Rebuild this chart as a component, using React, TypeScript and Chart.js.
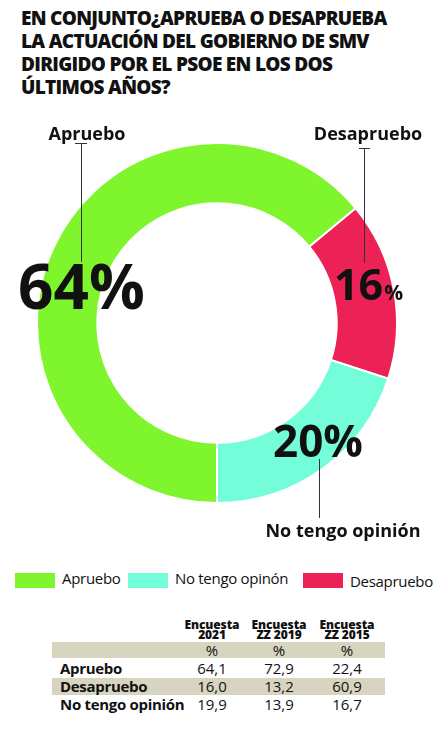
import React, { useEffect, useRef } from "react";
import { Chart, registerables } from "chart.js";

Chart.register(...registerables);

const titleLines = [
  "EN CONJUNTO¿APRUEBA O DESAPRUEBA",
  "LA ACTUACIÓN DEL GOBIERNO DE SMV",
  "DIRIGIDO POR EL PSOE EN LOS DOS",
  "ÚLTIMOS AÑOS?",
];

const segLabels = ["Apruebo", "Desapruebo", "No tengo opinión"];
const segValues = [64, 16, 20];
const segPercentText = ["64", "16", "20"];
const segColors = ["#7ef52c", "#ec2155", "#73fdd9"];

const legendLabels = ["Apruebo", "No tengo opinón", "Desapruebo"];
const legendColors = ["#7ef52c", "#73fdd9", "#ec2155"];

const tableHeadTop = ["Encuesta", "Encuesta", "Encuesta"];
const tableHeadBottom = ["2021", "ZZ 2019", "ZZ 2015"];
const tableRows = ["Apruebo", "Desapruebo", "No tengo opinión"];
const values2021 = ["64,1", "16,0", "19,9"];
const values2019 = ["72,9", "13,2", "13,9"];
const values2015 = ["22,4", "60,9", "16,7"];

const FONT = "'Open Sans', 'DejaVu Sans', sans-serif";
const BEIGE = "#d7d5bf";

const labelPlugin = {
  id: "calloutLabels",
  afterDraw(chart: any) {
    const meta = chart.getDatasetMeta(0);
    const arc = meta.data[0];
    if (!arc) return;
    const cx = arc.x;
    const cy = arc.y;
    const ctx = chart.ctx;
    ctx.save();
    ctx.fillStyle = "#111";
    ctx.strokeStyle = "#333";
    ctx.lineWidth = 1;

    const line = (x1: number, y1: number, x2: number, y2: number) => {
      ctx.beginPath();
      ctx.moveTo(x1, y1);
      ctx.lineTo(x2, y2);
      ctx.stroke();
    };

    // Apruebo
    ctx.textAlign = "center";
    ctx.textBaseline = "alphabetic";
    ctx.font = `700 18px ${FONT}`;
    ctx.fillText(segLabels[0], cx - 130, cy - 183);
    line(cx - 142, cy - 179.5, cx - 130, cy - 179.5);
    line(cx - 135.5, cy - 179.5, cx - 135.5, cy - 61);
    ctx.textAlign = "left";
    ctx.font = `700 62px ${FONT}`;
    ctx.fillText(segPercentText[0] + "%", cx - 199, cy - 14);

    // Desapruebo
    ctx.textAlign = "center";
    ctx.font = `700 18px ${FONT}`;
    ctx.fillText(segLabels[1], cx + 151, cy - 183);
    line(cx + 142, cy - 174.5, cx + 153, cy - 174.5);
    line(cx + 147.5, cy - 174.5, cx + 147.5, cy - 60);
    ctx.textAlign = "left";
    ctx.font = `700 43px ${FONT}`;
    const w16 = ctx.measureText(segPercentText[1]).width;
    ctx.fillText(segPercentText[1], cx + 117, cy - 23);
    ctx.font = `700 21px ${FONT}`;
    ctx.fillText("%", cx + 117 + w16 + 1, cy - 23);

    // No tengo opinión
    ctx.textAlign = "center";
    ctx.font = `700 44px ${FONT}`;
    ctx.fillText(segPercentText[2] + "%", cx + 101, cy + 134);
    line(cx + 102.5, cy + 136, cx + 102.5, cy + 195);
    ctx.font = `700 18px ${FONT}`;
    ctx.fillText(segLabels[2], cx + 126, cy + 214);

    ctx.restore();
  },
};

function DoughnutChart() {
  const ref = useRef<HTMLCanvasElement | null>(null);
  useEffect(() => {
    if (!ref.current) return;
    const chart = new Chart(ref.current, {
      type: "doughnut",
      data: {
        labels: segLabels,
        datasets: [
          {
            data: segValues,
            backgroundColor: segColors,
            borderColor: "#ffffff",
            borderWidth: 2,
          },
        ],
      },
      options: {
        responsive: false,
        maintainAspectRatio: false,
        animation: false,
        rotation: 180,
        cutout: "66.5%",
        layout: { padding: { left: 36, right: 41, top: 32, bottom: 56 } },
        plugins: {
          legend: { display: false },
          tooltip: { enabled: false },
          title: { display: false },
        },
      },
      plugins: [labelPlugin],
    });
    return () => chart.destroy();
  }, []);
  return (
    <canvas
      ref={ref}
      width={439}
      height={450}
      style={{ position: "absolute", left: 0, top: 110, width: 439, height: 450 }}
    />
  );
}

const colCenters = [212, 279, 347];
const rowValues = [values2021, values2019, values2015];

export default function App() {
  useEffect(() => {
    document.body.style.margin = "0";
  }, []);
  return (
    <div
      style={{
        position: "relative",
        width: 439,
        height: 735,
        background: "#fff",
        fontFamily: FONT,
        color: "#111",
        overflow: "hidden",
      }}
    >
      <div
        style={{
          position: "absolute",
          left: 21,
          top: 7,
          fontSize: 19,
          lineHeight: "23px",
          fontWeight: 800,
          letterSpacing: -0.7,
          whiteSpace: "nowrap",
        }}
      >
        {titleLines.map((t, i) => (
          <div key={i}>{t}</div>
        ))}
      </div>

      <DoughnutChart />

      {/* legend */}
      {legendLabels.map((l, i) => {
        const boxX = [15, 128, 303][i];
        return (
          <React.Fragment key={l}>
            <div
              style={{
                position: "absolute",
                left: boxX,
                top: 573,
                width: 40,
                height: 15,
                background: legendColors[i],
              }}
            />
            <div
              style={{
                position: "absolute",
                left: boxX + 47,
                top: i === 2 ? 574 : 571,
                fontSize: 15,
                lineHeight: "15px",
                whiteSpace: "nowrap",
                letterSpacing: -0.3,
              }}
            >
              {l}
            </div>
          </React.Fragment>
        );
      })}

      {/* table */}
      <div style={{ position: "absolute", left: 52, top: 642, width: 333, height: 16, background: BEIGE }} />
      <div style={{ position: "absolute", left: 52, top: 678, width: 333, height: 17, background: BEIGE }} />
      {colCenters.map((cx, i) => (
        <React.Fragment key={i}>
          <div
            style={{
              position: "absolute",
              left: cx - 40,
              width: 80,
              top: 620,
              textAlign: "center",
              fontSize: 12,
              lineHeight: "9.5px",
              fontWeight: 800,
              letterSpacing: -0.1,
            }}
          >
            <div>{tableHeadTop[i]}</div>
            <div>{tableHeadBottom[i]}</div>
          </div>
          <div
            style={{
              position: "absolute",
              left: cx - 30,
              width: 60,
              top: 642,
              textAlign: "center",
              fontSize: 15,
              lineHeight: "16px",
            }}
          >
            %
          </div>
          {tableRows.map((r, j) => (
            <div
              key={r}
              style={{
                position: "absolute",
                left: cx - 30,
                width: 60,
                top: 660 + j * 18,
                textAlign: "center",
                fontSize: 15,
                lineHeight: "17px",
              }}
            >
              {rowValues[i][j]}
            </div>
          ))}
        </React.Fragment>
      ))}
      {tableRows.map((r, j) => (
        <div
          key={r}
          style={{
            position: "absolute",
            left: 60,
            top: 660 + j * 18,
            fontSize: 15,
            lineHeight: "17px",
            fontWeight: 700,
            letterSpacing: -0.3,
            whiteSpace: "nowrap",
          }}
        >
          {r}
        </div>
      ))}
    </div>
  );
}
